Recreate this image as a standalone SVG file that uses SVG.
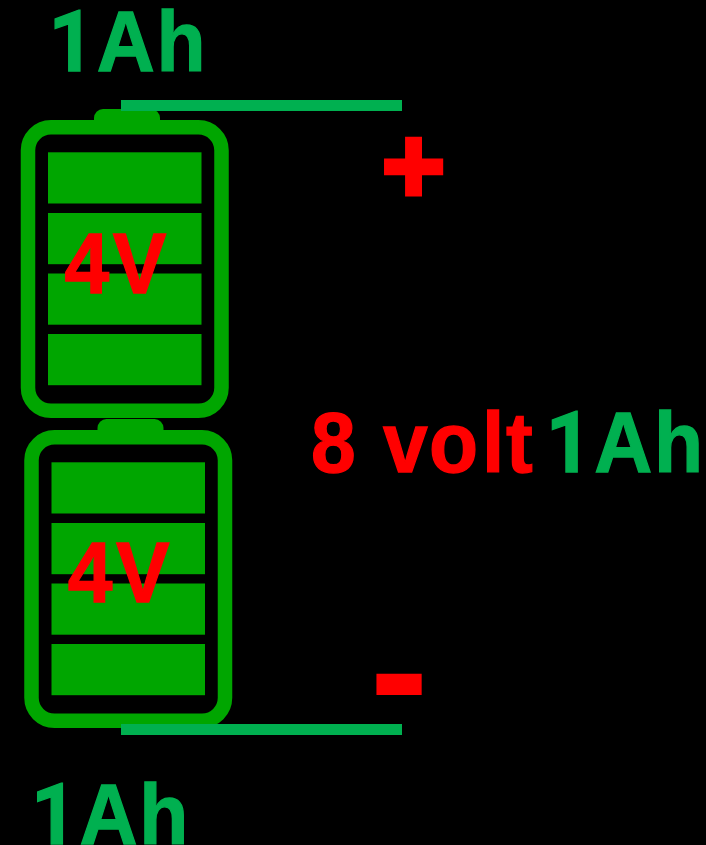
<svg xmlns="http://www.w3.org/2000/svg" width="706" height="845" viewBox="0 0 706 845">
<style>
.t{font-family:"Liberation Sans",Arial,sans-serif;font-weight:700;font-size:85.500px;stroke-width:1.300;stroke-linejoin:miter}
.one{font-family:Roboto,"Liberation Sans",sans-serif}
.g{fill:#00b050;stroke:#00b050}.r{fill:#ff0000;stroke:#ff0000}
.b{fill:#00a600}.o{fill:none;stroke:#00a600;stroke-width:14.500}
.w{fill:#00b050}
</style>
<defs>
<g id="cell">
<rect class="b" x="94" y="109" width="66" height="22" rx="9"/>
<rect class="o" x="28" y="127.300" width="193.500" height="283.500" rx="23"/>
<rect class="b" x="48" y="152.300" width="153.500" height="51.200"/>
<rect class="b" x="48" y="213" width="153.500" height="51.200"/>
<rect class="b" x="48" y="273.500" width="153.500" height="51.200"/>
<rect class="b" x="48" y="334" width="153.500" height="51.200"/>
</g>
</defs>
<rect width="706" height="845" fill="#000"/>
<g id="battery-top"><use href="#cell"/><text class="t r" transform="translate(64.500 293) scale(.94 1)" x="0 51.300">4V</text></g>
<g id="battery-bottom"><use href="#cell" transform="translate(3.500 310)"/><text class="t r" transform="translate(67.800 602) scale(.94 1)" x="0 51.300">4V</text></g>
<g id="connectors">
<rect class="w" x="121" y="100" width="281" height="11"/>
<rect class="w" x="121" y="724" width="281" height="11"/>
</g>
<g id="labels">
<text class="t g" transform="translate(47 70.700) scale(.94 1)"><tspan class="one" x="1.500">1</tspan><tspan x="53 116.500">Ah</tspan></text>
<text class="t g" transform="translate(29.700 844.200) scale(.94 1)"><tspan class="one" x="1.500">1</tspan><tspan x="53 116.500">Ah</tspan></text>
<text class="t g" transform="translate(544.400 472.400) scale(.94 1)"><tspan class="one" x="1.500">1</tspan><tspan x="53 116.500">Ah</tspan></text>
<text class="t r" transform="translate(311 472.400) scale(.94 1)" x="0 50 76.600 125.500 182 207.400">8 volt</text>
<text class="t r" x="382" y="202" style="font-size:108px;stroke-width:5">+</text>
<text class="t r" x="369.500" y="730.600" style="font-size:178px;stroke-width:0">-</text>
</g>
</svg>
